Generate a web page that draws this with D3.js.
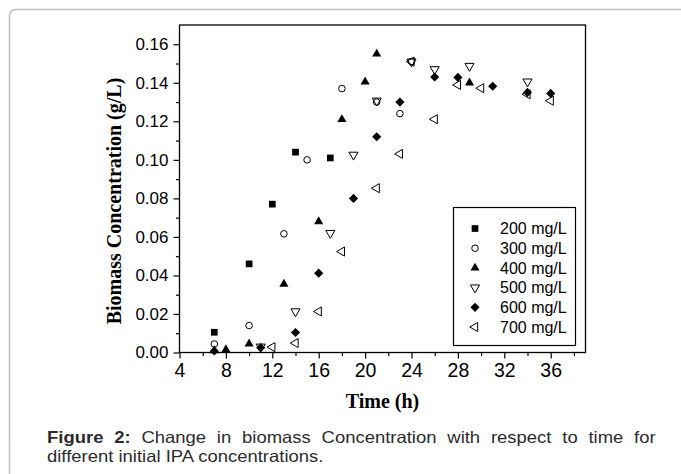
<!DOCTYPE html>
<html lang="en">
<head>
    <meta charset="UTF-8">
    <title>Biomass Concentration vs Time</title>
    <script src="https://d3js.org/d3.v7.min.js"></script>
    <style>
        body {
            margin: 0;
            padding: 0;
            background: #fff;
        }
        svg {
            display: block;
        }
        .tick text {
            font-family: Arial, "Liberation Sans", sans-serif;
            fill: #000;
        }
        .axis-title {
            font-family: "Times New Roman", "Liberation Serif", serif;
            font-weight: bold;
            font-size: 20px;
        }
        .legend-text {
            font-family: Arial, "Liberation Sans", sans-serif;
            font-size: 16px;
        }
        .caption {
            font-family: Arial, "Liberation Sans", sans-serif;
            font-size: 16.5px;
            fill: #2b2b2b;
        }
    </style>
</head>
<body>
    <svg width="681" height="474"></svg>

    <script>
        // initial IPA concentrations
        const concLabels = ["200 mg/L", "300 mg/L", "400 mg/L", "500 mg/L", "600 mg/L", "700 mg/L"];

        // [time (h), biomass (g/L)]
        const s200 = [[7, 0.0105], [10, 0.046], [12, 0.077], [14, 0.104], [17, 0.101]];
        const s300 = [[7, 0.0044], [10, 0.014], [13, 0.0616], [15, 0.100], [18, 0.137], [21, 0.130], [23, 0.124], [24, 0.151]];
        const s400 = [[7, 0.001], [8, 0.0015], [10, 0.0045], [13, 0.0355], [16, 0.068], [18, 0.121], [20, 0.1405], [21, 0.155], [29, 0.140]];
        const s500 = [[11, 0.003], [14, 0.0213], [17, 0.062], [19, 0.1026], [21, 0.1307], [24, 0.151], [26, 0.147], [29, 0.1487], [34, 0.1406]];
        const s600 = [[7, 0.0008], [11, 0.0025], [14, 0.0104], [16, 0.0412], [19, 0.080], [21, 0.112], [23, 0.130], [26, 0.143], [28, 0.1428], [31, 0.1382], [34, 0.135], [36, 0.1345]];
        const s700 = [[12, 0.0028], [14, 0.0049], [16, 0.0213], [18, 0.0524], [21, 0.0853], [23, 0.1031], [24, 0.151], [26, 0.1211], [28, 0.1389], [30, 0.1372], [34, 0.134], [36, 0.1307]];

        const xTicks = [4, 8, 12, 16, 20, 24, 28, 32, 36];
        const yTicks = [0, 0.02, 0.04, 0.06, 0.08, 0.10, 0.12, 0.14, 0.16];

        const allSeries = [s200, s300, s400, s500, s600, s700];

        // marker style per series: symbol, filled, rotation
        const markers = [
            { type: d3.symbolSquare, size: 45, fill: true, rot: 0 },
            { type: d3.symbolCircle, size: 34, fill: false, rot: 0 },
            { type: d3.symbolTriangle, size: 36, fill: true, rot: 0 },
            { type: d3.symbolTriangle, size: 36, fill: false, rot: 180 },
            { type: d3.symbolSquare, size: 42, fill: true, rot: 45 },
            { type: d3.symbolTriangle, size: 36, fill: false, rot: -90 }
        ];

        const svg = d3.select("svg");

        // page frame (rounded, cut by the window at right and bottom)
        svg.append("rect")
            .attr("x", 9.5).attr("y", 9.5)
            .attr("width", 700).attr("height", 500)
            .attr("rx", 6)
            .attr("fill", "none")
            .attr("stroke", "#bdbdbd")
            .attr("stroke-width", 1.5);

        const margin = { left: 179.5, top: 25, right: 585.5, bottom: 352.5 };

        const x = d3.scaleLinear().domain([4, 39]).range([margin.left, margin.right]);
        const y = d3.scaleLinear().domain([0, 0.17]).range([margin.bottom, margin.top]);

        // minor ticks
        svg.append("g")
            .attr("transform", `translate(0,${margin.bottom})`)
            .call(d3.axisBottom(x).tickValues(d3.range(6, 40, 4)).tickSize(3.5).tickFormat(""))
            .call(g => g.select(".domain").remove());
        svg.append("g")
            .attr("transform", `translate(${margin.left},0)`)
            .call(d3.axisLeft(y).tickValues(d3.range(0.01, 0.17, 0.02)).tickSize(3.5).tickFormat(""))
            .call(g => g.select(".domain").remove());

        // major ticks
        const xAxis = svg.append("g")
            .attr("transform", `translate(0,${margin.bottom})`)
            .call(d3.axisBottom(x).tickValues(xTicks).tickSize(6).tickPadding(5).tickFormat(d3.format("d")))
            .call(g => g.select(".domain").remove());
        xAxis.selectAll(".tick text").style("font-size", "19.5px");

        const yAxis = svg.append("g")
            .attr("transform", `translate(${margin.left},0)`)
            .call(d3.axisLeft(y).tickValues(yTicks).tickSize(6).tickPadding(5).tickFormat(d3.format(".2f")))
            .call(g => g.select(".domain").remove());
        yAxis.selectAll(".tick text").style("font-size", "17px");

        svg.selectAll(".tick line").attr("stroke", "#000").attr("stroke-width", 1.2);

        // plot frame
        svg.append("rect")
            .attr("x", margin.left).attr("y", margin.top)
            .attr("width", margin.right - margin.left)
            .attr("height", margin.bottom - margin.top)
            .attr("fill", "none")
            .attr("stroke", "#000")
            .attr("stroke-width", 1.3);

        // points
        allSeries.forEach((data, i) => {
            const m = markers[i];
            svg.append("g")
                .selectAll("path")
                .data(data)
                .enter()
                .append("path")
                .attr("d", d3.symbol().type(m.type).size(m.size))
                .attr("transform", d => `translate(${x(d[0])},${y(d[1])}) rotate(${m.rot})`)
                .attr("fill", m.fill ? "#000" : "none")
                .attr("stroke", "#000")
                .attr("stroke-width", m.fill ? 0 : 1);
        });

        // legend
        const legend = svg.append("g");
        legend.append("rect")
            .attr("x", 453.5).attr("y", 207.5)
            .attr("width", 122).attr("height", 138)
            .attr("fill", "#fff")
            .attr("stroke", "#000")
            .attr("stroke-width", 1.2);

        concLabels.forEach((label, i) => {
            const m = markers[i];
            const cy = 228.5 + i * 19.7;
            legend.append("path")
                .attr("d", d3.symbol().type(m.type).size(m.size))
                .attr("transform", `translate(475,${cy}) rotate(${m.rot})`)
                .attr("fill", m.fill ? "#000" : "none")
                .attr("stroke", "#000")
                .attr("stroke-width", m.fill ? 0 : 1);
            legend.append("text")
                .attr("class", "legend-text")
                .attr("x", 500)
                .attr("y", cy)
                .attr("dy", "0.36em")
                .text(label);
        });

        // axis titles
        svg.append("text")
            .attr("class", "axis-title")
            .attr("x", (margin.left + margin.right) / 2)
            .attr("y", 408)
            .attr("text-anchor", "middle")
            .text("Time (h)");

        svg.append("text")
            .attr("class", "axis-title")
            .attr("transform", "translate(121,201) rotate(-90)")
            .attr("text-anchor", "middle")
            .text("Biomass Concentration (g/L)");

        // caption, first line justified to the text block width
        const capScale = 1.12;
        const cap = svg.append("g").attr("transform", `translate(47,0) scale(${capScale},1)`);
        const line1 = cap.append("text")
            .attr("class", "caption")
            .attr("x", 0).attr("y", 443);
        line1.append("tspan").attr("font-weight", "bold").text("Figure 2:");
        line1.append("tspan").text(" Change in biomass Concentration with respect to time for");
        const natural = line1.node().getComputedTextLength();
        line1.attr("word-spacing", (603 / capScale - natural) / 9);

        cap.append("text")
            .attr("class", "caption")
            .attr("x", 0).attr("y", 462)
            .text("different initial IPA concentrations.");
    </script>
</body>
</html>
